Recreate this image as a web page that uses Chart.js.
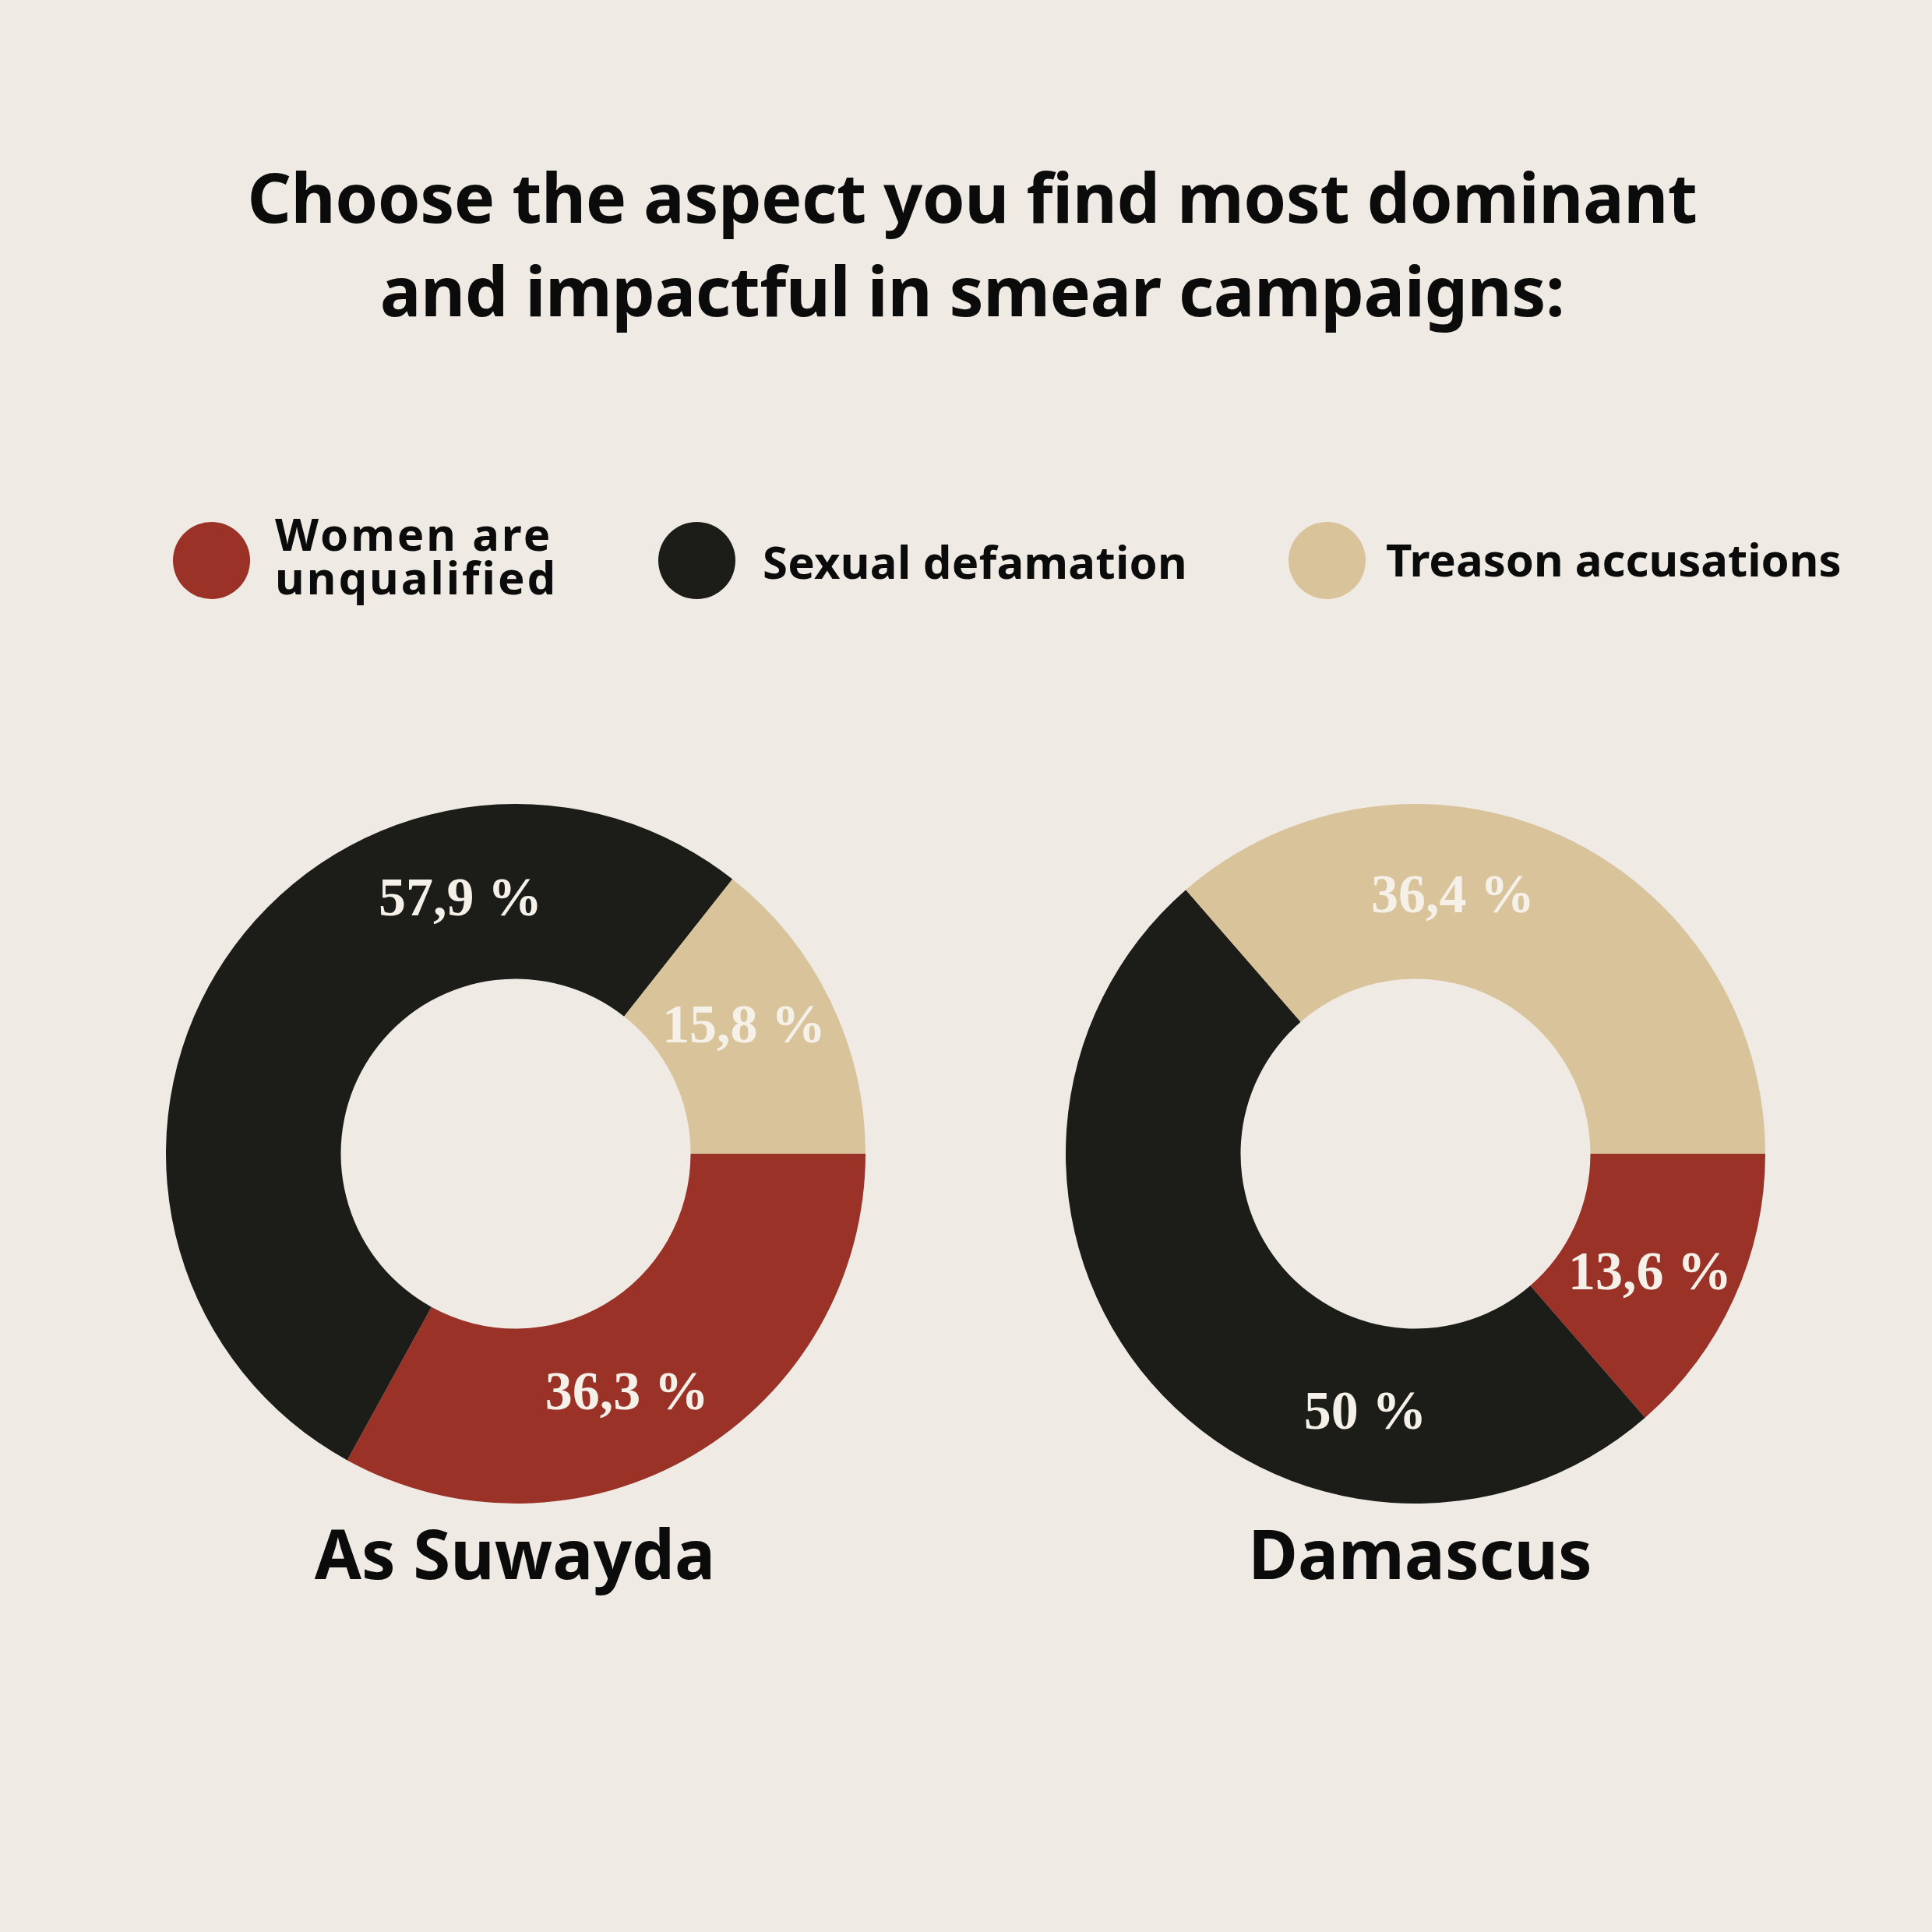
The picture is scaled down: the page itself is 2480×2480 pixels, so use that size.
<!DOCTYPE html>
<html>
<head>
<meta charset="utf-8">
<script src="https://cdn.jsdelivr.net/npm/chart.js@4.4.1/dist/chart.umd.min.js"></script>
<style>
    body {
        margin: 0;
        width: 2480px;
        height: 2480px;
        position: relative;
        background: #efebe4;
        font-family: "Noto Sans", sans-serif;
        color: #0b0b0b;
        overflow: hidden;
    }
    .title {
        position: absolute;
        left: 0;
        top: 192px;
        width: 2496px;
        text-align: center;
        font-size: 88px;
        font-weight: 700;
        line-height: 120px;
        letter-spacing: -0.5px;
    }
    .dot {
        position: absolute;
        width: 99px;
        height: 99px;
        border-radius: 50%;
    }
    .legend-text {
        position: absolute;
        font-size: 58px;
        font-weight: 700;
        line-height: 56px;
        white-space: nowrap;
    }
    .city {
        position: absolute;
        width: 900px;
        top: 1943px;
        text-align: center;
        font-size: 87px;
        font-weight: 700;
        line-height: 100px;
    }
    canvas {
        position: absolute;
    }
</style>
</head>
<body>
<div class="title">Choose the aspect you find most dominant<br>and impactful in smear campaigns:</div>

<div id="legend"></div>

<canvas id="suwaydaChart" width="898" height="898" style="left:213px; top:1032px;"></canvas>
<canvas id="damascusChart" width="898" height="898" style="left:1368px; top:1032px;"></canvas>

<div class="city" style="left:211px;">As Suwayda</div>
<div class="city" style="left:1373px;">Damascus</div>

<script>
const categories = ['Women are unqualified', 'Sexual defamation', 'Treason accusations'];
const legendLines = [['Women are', 'unqualified'], ['Sexual defamation'], ['Treason accusations']];
const suwaydaValues = [36.3, 57.9, 15.8];
const damascusValues = [13.6, 50, 36.4];

const sliceColors = ['#9a3228', '#1c1c18', '#d8c39b'];
const labelColor = '#f6f1e8';

// Legend: dot + text, placed along one row
const legendLayout = [
    { dotX: 222, textX: 353, textTop: 657, spacing: 3 },
    { dotX: 845, textX: 979, textTop: 693, spacing: 0.3 },
    { dotX: 1654, textX: 1779, textTop: 690, spacing: 0 },
];
const legend = document.getElementById('legend');
categories.forEach((name, i) => {
    const dot = document.createElement('div');
    dot.className = 'dot';
    dot.style.left = legendLayout[i].dotX + 'px';
    dot.style.top = '670px';
    dot.style.background = sliceColors[i];
    legend.appendChild(dot);

    const text = document.createElement('div');
    text.className = 'legend-text';
    text.style.left = legendLayout[i].textX + 'px';
    text.style.top = legendLayout[i].textTop + 'px';
    text.style.letterSpacing = legendLayout[i].spacing + 'px';
    text.innerHTML = legendLines[i].join('<br>');
    legend.appendChild(text);
});

const formatPct = (v) => String(v).replace('.', ',') + ' %';

// Writes each slice's percentage inside the ring, nudged along the arc
const sliceLabels = {
    id: 'sliceLabels',
    afterDatasetsDraw(chart, args, opts) {
        const ctx = chart.ctx;
        const values = chart.data.datasets[0].data;
        const meta = chart.getDatasetMeta(0);
        ctx.save();
        ctx.font = 'bold 70px "Liberation Serif", serif';
        ctx.fillStyle = labelColor;
        ctx.textAlign = 'center';
        ctx.textBaseline = 'alphabetic';
        meta.data.forEach((arc, i) => {
            const p = arc.getProps(['x', 'y', 'startAngle', 'endAngle', 'innerRadius', 'outerRadius'], true);
            const angle = (p.startAngle + p.endAngle) / 2 + (opts.shift[i] || 0) * Math.PI / 180;
            const r = (p.innerRadius + p.outerRadius) / 2;
            const x = p.x + r * Math.cos(angle);
            const y = p.y + r * Math.sin(angle) + 23;
            ctx.fillText(formatPct(values[i]), x, y);
        });
        ctx.restore();
    }
};

const makeDonut = (canvasId, values, shift) => {
    const ctx = document.getElementById(canvasId).getContext('2d');
    return new Chart(ctx, {
        type: 'doughnut',
        data: {
            labels: categories,
            datasets: [{
                data: values,
                backgroundColor: sliceColors,
                borderWidth: 0,
                hoverOffset: 0,
            }]
        },
        options: {
            responsive: false,
            animation: false,
            rotation: 90,
            cutout: '50%',
            layout: { padding: 0 },
            events: [],
            plugins: {
                legend: { display: false },
                tooltip: { enabled: false },
                sliceLabels: { shift: shift },
            }
        },
        plugins: [sliceLabels]
    });
};

makeDonut('suwaydaChart', suwaydaValues, [5.5, 44.3, -3.7]);
makeDonut('damascusChart', damascusValues, [2.2, -37.9, -16.3]);
</script>
</body>
</html>
